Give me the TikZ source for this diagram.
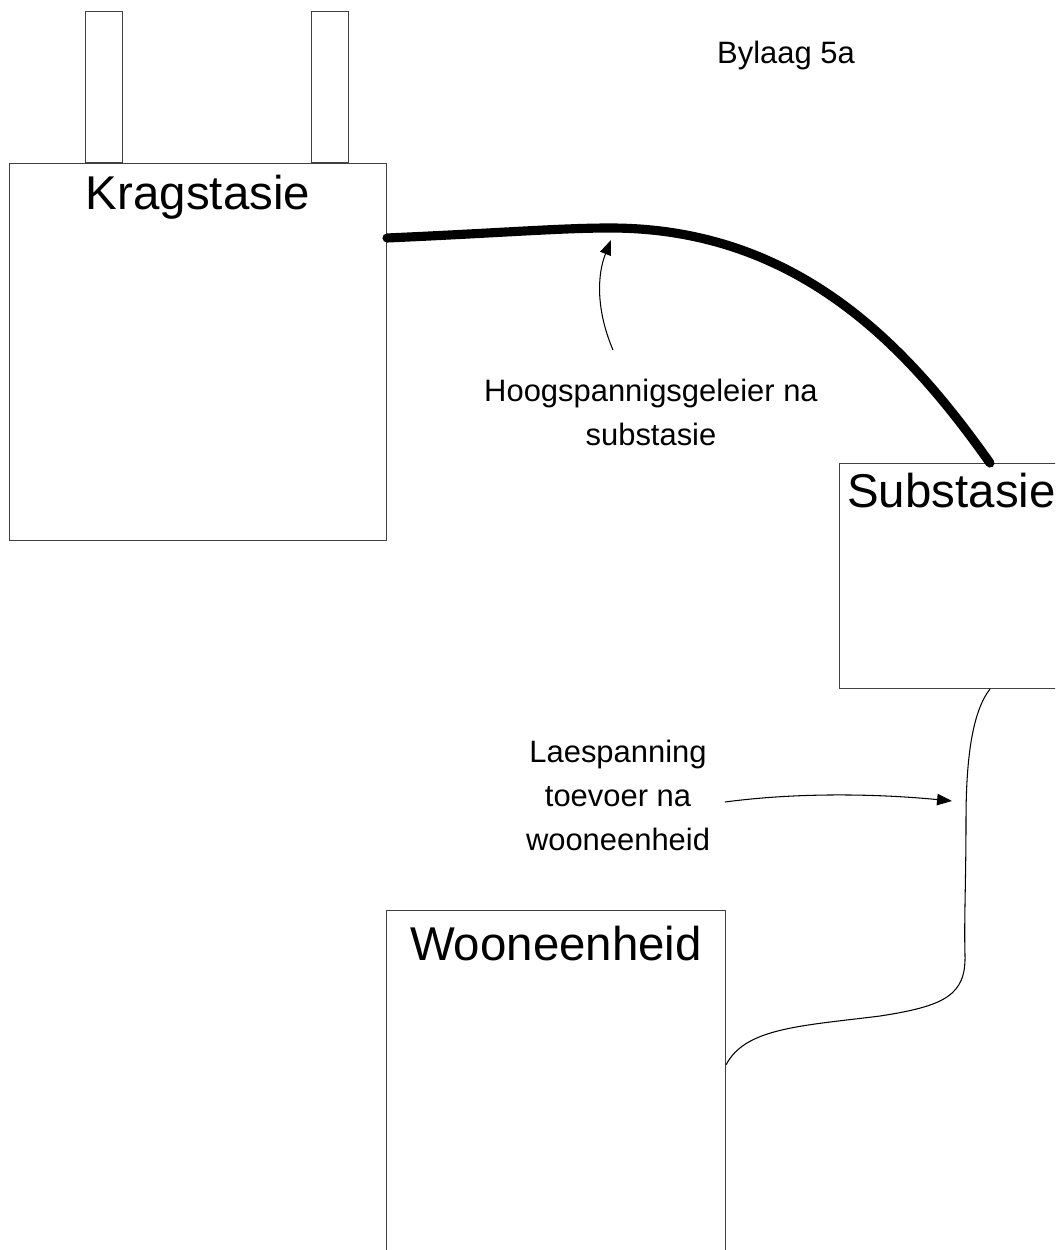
\documentclass[tikz,border=0pt]{standalone}
\usepackage{fontspec}
\setmainfont{Liberation Sans}
\usepackage{tikz}
\usetikzlibrary{arrows.meta, positioning, calc}
\tikzstyle{box} = [rectangle, draw=black!75, line width=0.6pt, inner sep=0pt]
\tikzstyle{prong} = [box, minimum width=0.74cm, minimum height=3.02cm, anchor=south west]
\tikzstyle{title} = [font=\fontsize{27}{30}\selectfont, inner sep=0pt, anchor=base]
\tikzstyle{remark} = [font=\fontsize{17.6}{25}\selectfont, align=center, inner sep=0pt]
\tikzstyle{cable} = [line width=5.2pt, line cap=round]
\tikzstyle{wire} = [line width=0.6pt]
\tikzstyle{arrow} = [line width=0.6pt, -{Triangle[length=8.5pt, width=6.5pt]}]

\begin{document}
\begin{tikzpicture}[x=0.02cm, y=-0.02cm]
\useasboundingbox (0,0) rectangle (1055,1250);
\clip (0,0) rectangle (1055,1250);

% power station with its two stacks
\node[box, anchor=north west, minimum width=7.54cm, minimum height=7.54cm] (krag) at (9,163) {};
\node[prong] (stackL) at (85,163) {};
\node[prong] (stackR) at (311,163) {};
\node[title] (kragtitle) at ([yshift=-0.94cm]krag.north) {Kragstasie};

% substation and dwelling
\node[box, anchor=north west, minimum width=4.48cm, minimum height=4.5cm] (sub) at (839,463) {};
\node[title] (subtitle) at ([yshift=-0.9cm]sub.north) {Substasie};
\node[box, anchor=north west, minimum width=6.78cm, minimum height=7.6cm] (woon) at (386,910) {};
\node[title] (woontitle) at ([yshift=-1.0cm]woon.north) {Wooneenheid};

\node[remark, anchor=base] (bylaag) at (786,64) {Bylaag 5a};

% high voltage line
\coordinate (hvA) at ([yshift=-1.5cm]krag.north east);
\coordinate (hvB) at ([xshift=3.02cm]sub.north west);
\draw[cable] (hvA) .. controls (500,233) and (560,228) .. (610,228)
    .. controls (800,228) and (910,350) .. (hvB);

% low voltage supply
\coordinate (lvA) at ([xshift=3.02cm]sub.south west);
\coordinate (lvB) at ([yshift=-3.1cm]woon.north east);
\draw[wire] (lvA) .. controls (972,712) and (966,760) .. (966,820)
    .. controls (966,880) and (964,920) .. (965,955)
    .. controls (966,995) and (945,1006) .. (880,1016)
    .. controls (800,1026) and (745,1028) .. (lvB);

\node[remark, anchor=north] (hvlabel) at (651,379)
    {Hoogspannigsgeleier na\\substasie};
\draw[arrow] (613,350) .. controls (596,310) and (597,275) .. (611,240);

\node[remark, anchor=north] (lvlabel) at (618,740)
    {Laespanning\\toevoer na\\wooneenheid};
\draw[arrow] (725,802) .. controls (800,792) and (880,794) .. (952,801);

\end{tikzpicture}
\end{document}
